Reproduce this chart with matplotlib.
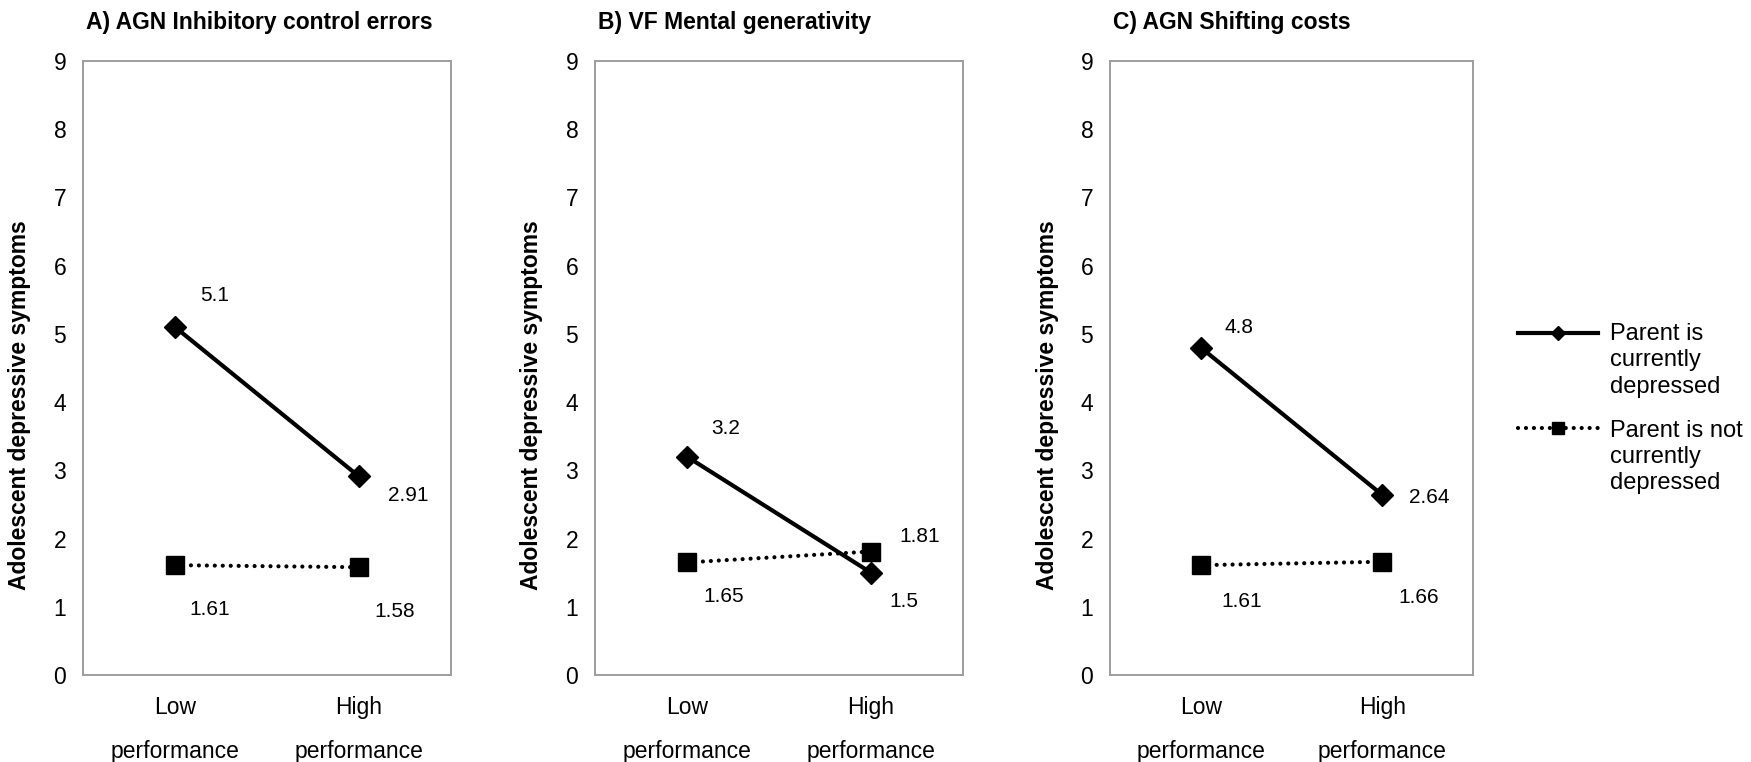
# interaction plots: parental depression x executive function performance

import matplotlib
matplotlib.use('Agg')
from matplotlib import pyplot as plt
from matplotlib.lines import Line2D

plt.rcParams['font.family'] = ['Liberation Sans', 'DejaVu Sans']

levels = ["Low\nperformance", "High\nperformance"]
titles = [
    "A) AGN Inhibitory control errors",
    "B) VF Mental generativity",
    "C) AGN Shifting costs",
]
parent_depressed = [
    [5.1, 2.91],
    [3.2, 1.5],
    [4.8, 2.64],
]
parent_not_depressed = [
    [1.61, 1.58],
    [1.65, 1.81],
    [1.61, 1.66],
]
label_dep = "Parent is\ncurrently\ndepressed"
label_not = "Parent is not\ncurrently\ndepressed"

# where each value label sits relative to its point (pixels)
dep_offsets = [[(40, 32), (49, -19)], [(39, 28), (33, -29)], [(38, 20), (47, -3)]]
not_offsets = [[(35, -44), (36, -44)], [(37, -34), (49, 15)], [(41, -36), (36, -36)]]

spine_col = '#9d9d9d'
dotted = (0, (0.01, 1.9))
dep_style = dict(color='black', lw=3, marker='D', ms=11, solid_capstyle='butt')
not_style = dict(color='black', lw=3, linestyle=dotted, dash_capstyle='round',
                 marker='s', ms=13)

fig = plt.figure(figsize=(17.51, 7.62), dpi=100)
lefts = [83 / 1751, 595 / 1751, 1110 / 1751]
widths = [368 / 1751, 368 / 1751, 363 / 1751]
bottom, height = 1 - 675 / 762, 614 / 762

x = [0, 1]
for i in range(3):
    ax = fig.add_axes([lefts[i], bottom, widths[i], height])
    ax.plot(x, parent_not_depressed[i], **not_style)
    ax.plot(x, parent_depressed[i], **dep_style)
    for j in range(2):
        ax.annotate(f"{parent_depressed[i][j]:g}", (x[j], parent_depressed[i][j]),
                    xytext=dep_offsets[i][j], textcoords='offset pixels',
                    ha='center', va='center', fontsize=15)
        ax.annotate(f"{parent_not_depressed[i][j]:g}", (x[j], parent_not_depressed[i][j]),
                    xytext=not_offsets[i][j], textcoords='offset pixels',
                    ha='center', va='center', fontsize=15)
    ax.set_xlim(-0.5, 1.5)
    ax.set_ylim(0, 9)
    ax.set_yticks(range(10))
    ax.set_xticks(x)
    ax.set_xticklabels(levels, linespacing=2.15)
    ax.tick_params(axis='both', length=0, labelsize=16.5)
    ax.tick_params(axis='y', pad=12)
    ax.tick_params(axis='x', pad=15)
    for s in ax.spines.values():
        s.set_color(spine_col)
        s.set_linewidth(1.4)
    ax.set_title(titles[i], loc='left', fontsize=16.5, fontweight='bold', pad=23, x=0.008)
    ax.set_ylabel("Adolescent depressive symptoms", fontsize=16.5, fontweight='bold')
    ax.yaxis.set_label_coords(-0.14, 0.44)

# legend drawn next to the last panel
lx = [1518 / 1751, 1558 / 1751, 1598 / 1751]
y1 = 1 - 333 / 762
y2 = 1 - 428 / 762
fig.add_artist(Line2D(lx, [y1] * 3, transform=fig.transFigure, color='black', lw=3,
                      marker='D', ms=7.5, markevery=[1]))
fig.add_artist(Line2D(lx, [y2] * 3, transform=fig.transFigure, color='black', lw=3,
                      linestyle=dotted, dash_capstyle='round',
                      marker='s', ms=8.5, markevery=[1]))
fig.text(1610 / 1751, 1 - 323 / 762, label_dep, va='top', ha='left', fontsize=17,
         linespacing=1.25)
fig.text(1610 / 1751, 1 - 420 / 762, label_not, va='top', ha='left', fontsize=17,
         linespacing=1.25)

plt.savefig('out.png', dpi=100)
